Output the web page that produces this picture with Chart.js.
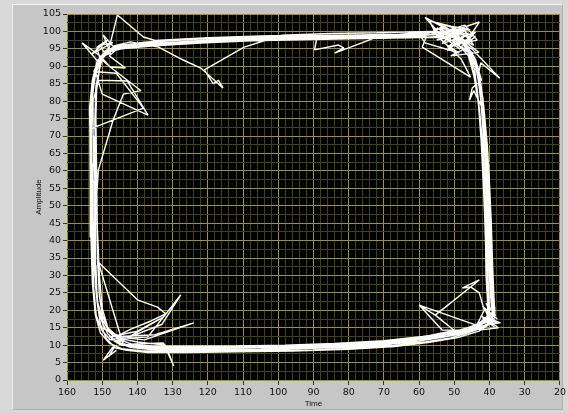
<!DOCTYPE html>
<html>
<head>
<meta charset="utf-8">
<script src="https://cdn.jsdelivr.net/npm/chart.js@4.4.1/dist/chart.umd.min.js"></script>
<style>
  html, body { margin: 0; padding: 0; }
  body { width: 568px; height: 413px; background: #d8d8d8; position: relative; overflow: hidden; }
  #frame { position: absolute; left: 12px; top: 4px; width: 549px; height: 404px;
           background: #c6c6c6; border-top: 1px solid #f2f2f2; border-left: 1px solid #ececec;
           border-right: 1px solid #b0b0b0; border-bottom: 1px solid #b0b0b0; }
  #graph { position: absolute; left: 0; top: 0; }
</style>
</head>
<body>
<div id="frame"></div>
<canvas id="graph" width="568" height="413"></canvas>
<script>
// Axis ranges and tick steps
const timeRange = [20, 160];
const ampRange = [0, 105];
const timeLabelStep = 10, timeGridStep = 2;
const ampLabelStep = 5, ampGridStep = 2.5;

// XY trace, one array per lap around the loop: [time, amplitude]
const lap1 = [[150.6,92],[151.4,91.6],[149,94.2],[145,95.2],[138,95.8],[128,96.5],[115,97.1],[100,97.5],[88,97.8],[75,98],[63,98.2],[56,98.3],[51,97.8],[54,101],[47,99],[52,95.5],[45,97.5],[50,100.5],[46.5,95.5],[44.2,91.5],[42.6,86],[41.7,79],[40.9,70],[40.3,58],[39.8,47],[39.5,36],[39.2,27],[38.9,21],[39.5,17],[42,15],[46,13.6],[51,12.1],[58,11],[67,9.9],[78,9.1],[90,8.6],[104,8.4],[118,8.3],[130,8.2],[139,8.4],[144.5,9],[148,10.6],[150.5,13.5],[151.9,18.5],[152.6,26],[153,38],[153.2,52],[153.4,66],[153.6,78],[152.8,86],[151.4,91.6]];
const lap2 = [[155.7,96.7],[150.4,92.8],[148,95.4],[145.7,104.7],[138.3,98.4],[135,97.4],[120,98.2],[105,98.7],[92,99],[89,98.4],[89.7,94.7],[82.9,96.1],[81.4,95.3],[84,93.8],[71.4,98.6],[62,99.5],[55,99.8],[49,98.2],[46,94.5],[44.2,89],[43.6,83],[42.7,75],[41.9,64],[41.3,52],[40.9,41],[40.6,31],[40.4,24],[40,19.5],[41.3,17.5],[44,15.8],[60,21.5],[55.4,18.6],[42.9,28.7],[47.7,26.4],[45.4,26.7],[42.9,25],[41.5,20],[43.5,16],[50,13.6],[58,12.3],[68,11.2],[80,10.4],[95,9.9],[110,9.6],[125,9.5],[136,9.6],[141.5,10.2],[145.5,11.8],[148.3,14.4],[149.9,18.5],[150.8,24],[151.3,34],[151.5,48],[151.8,62],[152.1,74],[151.8,84],[150.5,91]];
const lap3 = [[149.6,93.3],[146.5,95.2],[141,95.9],[130,96.9],[116,97.6],[102,98],[86,98.3],[70,98.6],[60,98.8],[54,99.2],[58.3,104],[50.6,99.8],[55,102.5],[49.5,100.8],[53.5,96.5],[44,99.8],[48.5,95],[54.5,99.5],[47,101.8],[43.5,97.5],[50,96.2],[48,97],[45.3,93],[43.2,88],[42.1,81],[41.3,72],[40.7,61],[40.2,50],[39.9,39],[39.6,29],[39.3,22],[38.9,18.6],[40.3,16.2],[43,15],[48,13.7],[55,12.4],[65,11],[78,10],[92,9.4],[108,9.2],[122,9],[134,8.9],[140,9.3],[145,10.2],[147.5,11.8],[137.1,12.3],[127.7,24.4],[133,16],[143,12],[132.6,18.1],[140,14],[146.8,12.6],[149.4,15],[151,19.5],[151.9,27],[152.4,40],[151.1,60.2],[146.9,74.6],[144,82],[139,83],[148,90],[150.2,92.6]];
const lap4 = [[147.7,93.8],[149.7,99],[147,95.8],[142,97],[134,95.5],[127,91.8],[122,89.5],[115.7,83.8],[117,86],[118.5,85],[121,89],[109.7,95.5],[99,98.9],[85,99.4],[72,99.6],[64,99.8],[57,100],[52,99.8],[51.4,99.8],[42.9,102.7],[46,98],[49,96],[45,94],[43.6,89],[42.7,83],[42,74],[41.3,63],[40.8,53],[40.5,42],[40.1,32],[39.7,24],[39.2,20],[39.8,17],[41,18],[36.9,16.4],[40,16],[43,14],[49,12.2],[57,10.8],[67,9.6],[80,8.8],[96,8.3],[112,8.1],[126,7.9],[137,7.9],[143,8.5],[147,9.4],[149.7,5.7],[146,8.5],[148,7],[146.5,9.5],[148.8,11.8],[150.5,16],[151.4,22],[151.8,33],[151.9,46],[152.1,58],[152.4,70],[152.6,80],[151,86],[142.9,85.8],[137,76],[150,82],[151.8,88],[150.3,92]];
const lap5 = [[147.7,89.8],[143.4,89.5],[148,93],[145.5,95.2],[140,95.9],[125,96.9],[110,97.4],[95,97.8],[80,98.1],[68,98.3],[58,98.5],[59.1,95.5],[45.4,86.9],[48,92],[53,97],[50,99.5],[47,97],[44,92],[42.3,86],[44.9,83.8],[45.7,80.3],[44.5,83],[41.5,77],[40.6,67],[40,56],[39.5,45],[39.2,35],[38.9,27],[38.6,21],[38.5,18],[40,16.2],[43,14.3],[37.5,15],[41,17.5],[44.9,14.3],[53.4,14.3],[60,21.5],[55.4,18.6],[50,14.2],[58,12.6],[70,10.8],[85,10],[102,9.6],[118,9.4],[132,9.3],[141,9.7],[145.5,10.8],[148,12.6],[138,11.5],[124,16.4],[135,13],[145,12.5],[150.3,15],[152,19],[152.8,28],[153.2,41],[153.4,56],[153.5,72],[138.3,78],[146,88],[152.4,88.5],[151,91.5]];
const lap6 = [[148.4,94.8],[145,96],[138,96.9],[126,97.8],[112,98.2],[98,98.5],[84,98.8],[70,99.1],[60,99.2],[58.3,96.7],[48.6,93.8],[52,96],[55,98.8],[57,103],[51,101.5],[45.5,100.5],[52.5,100],[47,96.2],[44,98.5],[49,100],[56.5,99.5],[49.5,97],[46,93],[44.5,87.5],[43.2,80],[42.4,69],[41.9,59],[41.4,48],[41.1,38],[41,30],[40.6,23],[40.5,19.5],[37.8,17.5],[41.8,21],[39,16.2],[42.5,18.5],[38.6,15.2],[41.4,17.3],[43.5,15],[47,13.5],[53,12.3],[62,10.9],[74,9.7],[90,9.1],[105,8.8],[120,8.6],[133,8.6],[139.5,9],[144,10.1],[151.1,33.8],[140,23],[134.3,20.9],[132,19],[136,17],[142,14.5],[145.8,12.6],[148.4,15],[150,20.5],[150.8,30],[151.4,44],[151.6,60],[151.8,75],[151.6,83],[150.8,89],[150,92.2]];
const lap7 = [[147.2,95],[143,96.1],[132,96.8],[118,97.6],[104,98.1],[90,98.4],[76,98.7],[66,98.9],[57,99.1],[52.5,99],[48,98],[55,101],[50,98],[45,95],[42,91.8],[37.1,86.6],[42.5,91],[43.3,87],[41.9,81],[41.1,72],[40.5,61],[40,51],[39.7,41],[39.5,33],[39.1,25],[38.8,20.5],[39.5,17.8],[41.8,16.5],[45.5,15.2],[51,13.6],[59,12.5],[70,11.3],[84,10.5],[98,10],[112,9.8],[126,9.7],[136,9.8],[142.5,10.3],[132.6,10.6],[129.7,4],[132,10],[140,10.9],[144.5,11.8],[147.8,13.5],[149.8,17],[151.5,23],[152.3,33],[152.7,47],[152.9,62],[153.1,76],[152.5,85],[150.9,91.2]];
const lap8 = [[148.5,94],[144.5,95],[136,95.8],[122,96.7],[108,97.3],[94,97.6],[80,97.9],[67,98.1],[59,98.3],[53,98.6],[56,100.8],[48,100.5],[55,97.5],[46,99.5],[52,94.5],[47.5,101],[44.5,96],[49,98.6],[43,94],[51,93],[46.2,95.5],[45.2,91],[43.7,85],[42.8,77],[42,68],[41.4,57],[40.9,46],[40.6,35],[40.3,26],[40,20],[41,22],[38.5,19],[42,17.5],[38,16.5],[41.5,20.5],[39,15.8],[40.8,17],[42.8,15.4],[46.5,14],[52,12.5],[60,11.3],[71,10.2],[85,9.4],[100,8.8],[115,8.7],[128,8.6],[137,8.8],[142,9.4],[145.8,10.8],[148.4,13.2],[150,16.5],[151.2,21],[151.9,31],[152.2,43],[152.4,57],[152.6,70],[152.8,81],[152,87.5],[150.6,92]];
const lap9 = [[151.5,95.5],[148.5,97.5],[153,93.5],[147,96.8],[150.5,96],[149.6,94.2],[146,95.8],[140,96.5],[130,97.4],[117,98.1],[103,98.5],[90,98.8],[77,99],[65,99.2],[57,99.5],[53,101.5],[49,99],[54,98],[47,100.2],[45.5,97],[50.5,97],[44.5,93],[43.2,86],[42.3,79],[41.5,70],[40.9,58],[40.4,47],[40.1,36],[39.8,27],[39.5,21],[38.3,18.5],[41,19.5],[39.8,16.8],[42.5,16],[46,14.6],[51,13.1],[58,12],[67,10.9],[78,10.1],[90,9.6],[104,9.4],[118,9.3],[130,9.2],[139,9.4],[144.5,10],[146,12.5],[143.5,11],[147.8,11.6],[150.2,14.4],[151.7,18.5],[152.4,26],[152.8,38],[153,52],[153.2,66],[153.4,78],[152.6,86],[151.1,92]];

const laps = [lap1, lap2, lap3, lap4, lap5, lap6, lap7, lap8, lap9];
const tracePoints = laps.flat().map(([t, a]) => ({ x: t, y: a }));

const isMultiple = (v, step) => Math.abs(v / step - Math.round(v / step)) < 1e-6;
const majorGrid = '#9a9a12';
const minorGrid = '#434305';
const labelFont = { family: 'DejaVu Sans', size: 9.5 };
const titleFont = { family: 'Liberation Sans', size: 8 };

// Black plotting area behind the grid
const plotBackground = {
  id: 'plotBackground',
  beforeDraw(chart) {
    const { ctx, chartArea: a } = chart;
    ctx.save();
    ctx.fillStyle = '#000000';
    ctx.fillRect(a.left, a.top, a.right - a.left, a.bottom - a.top);
    ctx.restore();
  }
};

new Chart(document.getElementById('graph'), {
  type: 'scatter',
  data: {
    datasets: [{
      data: tracePoints,
      showLine: true,
      borderColor: '#ffffff',
      borderWidth: 1.4,
      borderJoinStyle: 'bevel',
      pointRadius: 0,
      tension: 0,
      fill: false
    }]
  },
  options: {
    responsive: false,
    animation: false,
    events: [],
    layout: { padding: { left: 30, top: 14, right: 8, bottom: 0 } },
    plugins: { legend: { display: false }, tooltip: { enabled: false } },
    scales: {
      x: {
        type: 'linear',
        reverse: true,
        min: timeRange[0],
        max: timeRange[1],
        afterFit: s => { s.height = 33; },
        border: { display: false },
        grid: {
          color: c => isMultiple(c.tick.value, timeLabelStep) ? majorGrid : minorGrid,
          tickColor: c => isMultiple(c.tick.value, timeLabelStep) ? '#333333' : 'rgba(0,0,0,0)',
          tickLength: 5,
          lineWidth: 1
        },
        ticks: {
          stepSize: timeGridStep,
          autoSkip: false,
          maxRotation: 0,
          padding: 2,
          color: '#111111',
          font: labelFont,
          callback: v => isMultiple(v, timeLabelStep) ? String(v) : ''
        },
        title: { display: true, text: 'Time', color: '#111111', font: titleFont, padding: { top: 4, bottom: 4 } }
      },
      y: {
        type: 'linear',
        min: ampRange[0],
        max: ampRange[1],
        afterFit: s => { s.width = 37; },
        border: { display: false },
        grid: {
          color: c => isMultiple(c.tick.value, ampLabelStep) ? majorGrid : minorGrid,
          tickColor: c => isMultiple(c.tick.value, ampLabelStep) ? '#333333' : 'rgba(0,0,0,0)',
          tickLength: 4,
          lineWidth: 1
        },
        ticks: {
          stepSize: ampGridStep,
          autoSkip: false,
          padding: 2,
          color: '#111111',
          font: labelFont,
          callback: v => isMultiple(v, ampLabelStep) ? String(v) : ''
        },
        title: { display: true, text: 'Amplitude', color: '#111111', font: titleFont, padding: { top: 4, bottom: 4 } }
      }
    }
  },
  plugins: [plotBackground]
});
</script>
</body>
</html>
